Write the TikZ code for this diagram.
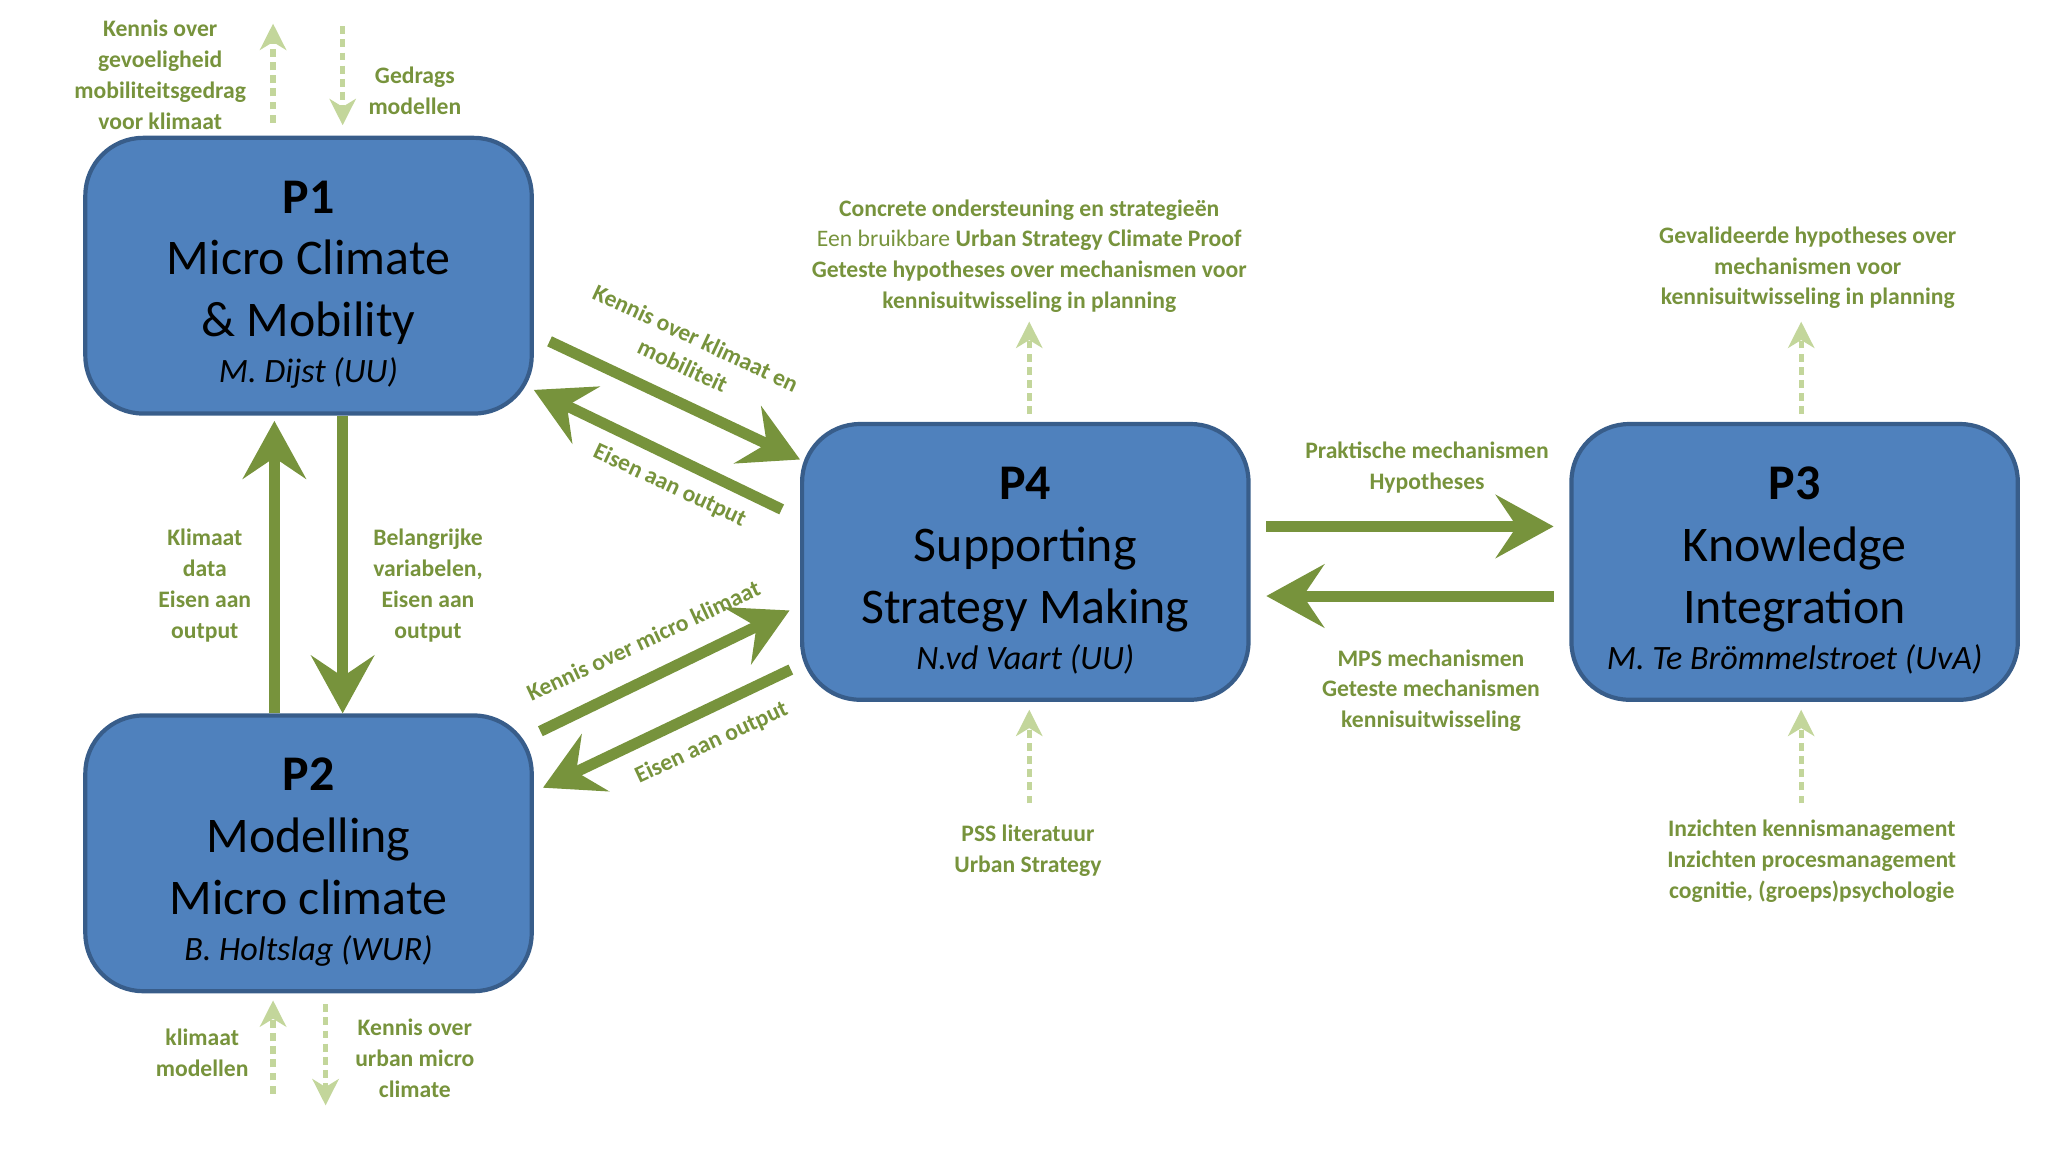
\documentclass[tikz,border=0pt]{standalone}
\usepackage{fontspec}
\setmainfont{Carlito}
\usetikzlibrary{positioning,arrows.meta,calc}
\definecolor{boxblue}{HTML}{4F81BD}
\definecolor{boxedge}{HTML}{385D8A}
\definecolor{darkgreen}{HTML}{77933C}
\definecolor{lightgreen}{HTML}{C3D69B}
\tikzset{
  proj/.style={rounded corners=22pt,draw=boxedge,line width=1.6pt,fill=boxblue,
    minimum width=170pt,minimum height=105pt,align=center,
    font=\fontsize{19}{23.5}\selectfont},
  flow/.style={draw=darkgreen,line width=4.2pt,
    -{Stealth[length=22pt,width=24pt,inset=8pt]}},
  hint/.style={draw=lightgreen,line width=2pt,dash pattern=on 3pt off 2pt,
    -{Stealth[length=10pt,width=10pt,inset=3pt]}},
  lbl/.style={text=darkgreen,font=\fontsize{9}{11.7}\selectfont\bfseries,align=center},
}
\newcommand{\who}[1]{\\[-6pt]{\fontsize{13}{16}\selectfont\itshape #1}}
\newcommand{\pid}[1]{\rule{0pt}{19pt}\textbf{#1}}
\begin{document}
\begin{tikzpicture}[x=0.5pt,y=-0.5pt]
\useasboundingbox (0,0) rectangle (1560,878);
% projects
\node[proj] (p1) at (235,210) {\pid{P1}\\Micro Climate\\\& Mobility\who{M. Dijst (UU)}};
\node[proj] (p2) at (235,650) {\pid{P2}\\Modelling\\Micro climate\who{B. Holtslag (WUR)}};
\node[proj] (p4) at (781,428) {\pid{P4}\\Supporting\\Strategy Making\who{N.vd Vaart (UU)}};
\node[proj] (p3) at (1367,428) {\pid{P3}\\Knowledge\\Integration\who{M. Te Brömmelstroet (UvA)}};
% main flows
\draw[flow] ([xshift=13pt]p1.south) -- ([xshift=13pt]p2.north);
\draw[flow] ([xshift=-13pt]p2.north) -- ([xshift=-13pt,yshift=-2pt]p1.south);
\draw[flow] ($(p1.east)+(12,50)$) -- ($(p4.west)+(0,-78)$);
\draw[flow] ($(p4.west)+(-14,-40)$) -- ($(p1.east)+(0,87)$);
\draw[flow] ($(p2.east)+(5,-93)$) -- ($(p4.west)+(-8,37)$);
\draw[flow] ($(p4.west)+(-7,82)$) -- ($(p2.east)+(7,-50)$);
\draw[flow] ($(p4.east)+(12,-27)$) -- ($(p3.west)+(-12,-27)$);
\draw[flow] ($(p3.west)+(-12,26)$) -- ($(p4.east)+(12,26)$);
% light hints
\coordinate (a1) at (208,18); \coordinate (a2) at (261,20);
\coordinate (b1) at (208,762); \coordinate (b2) at (248,842);
\coordinate (c1) at (784,245); \coordinate (c2) at (784,612);
\coordinate (d1) at (1372,245); \coordinate (d2) at (1372,612);
\draw[hint] ([xshift=-13.5pt,yshift=5pt]p1.north) -- (a1);
\draw[hint] (a2) -- ([xshift=13pt,yshift=4pt]p1.north);
\draw[hint] (208,833) -- (b1);
\draw[hint] (248,765) -- (b2);
\draw[hint] ([xshift=1.5pt,yshift=3pt]p4.north) -- (c1);
\draw[hint] (c2) -- ([xshift=1.5pt,yshift=-3pt]p4.south);
\draw[hint] ([xshift=2.5pt,yshift=3pt]p3.north) -- (d1);
\draw[hint] (d2) -- ([xshift=2.5pt,yshift=-3pt]p3.south);
% labels
\node[lbl] (l1) at (122,57) {Kennis over\\gevoeligheid\\mobiliteitsgedrag\\voor klimaat};
\node[lbl] (l2) at (316,69) {Gedrags\\modellen};
\node[lbl,rotate=-25] (l3) at (525,268) {Kennis over klimaat en\\mobiliteit};
\node[lbl,rotate=-25] (l4) at (510,370) {Eisen aan output};
\node[lbl] (l5) at (156,446) {Klimaat\\data\\Eisen aan\\output};
\node[lbl] (l6) at (326,446) {Belangrijke\\variabelen,\\Eisen aan\\output};
\node[lbl,rotate=25] (l7) at (490,488) {Kennis over micro klimaat};
\node[lbl,rotate=25] (l8) at (542,566) {Eisen aan output};
\node[lbl] (l9) at (154,802) {klimaat\\modellen};
\node[lbl] (l10) at (316,806) {Kennis over\\urban micro\\climate};
\node[lbl] (l11) at (784,195) {Concrete ondersteuning en strategieën\\{\mdseries Een bruikbare} Urban Strategy Climate Proof\\Geteste hypotheses over mechanismen voor\\kennisuitwisseling in planning};
\node[lbl] (l12) at (1377,204) {Gevalideerde hypotheses over\\mechanismen voor\\kennisuitwisseling in planning};
\node[lbl] (l13) at (1087,356) {Praktische mechanismen\\Hypotheses};
\node[lbl] (l14) at (1090,526) {MPS mechanismen\\Geteste mechanismen\\kennisuitwisseling};
\node[lbl] (l15) at (783,648) {PSS literatuur\\Urban Strategy};
\node[lbl] (l16) at (1380,656) {Inzichten kennismanagement\\Inzichten procesmanagement\\cognitie, (groeps)psychologie};
\end{tikzpicture}
\end{document}
